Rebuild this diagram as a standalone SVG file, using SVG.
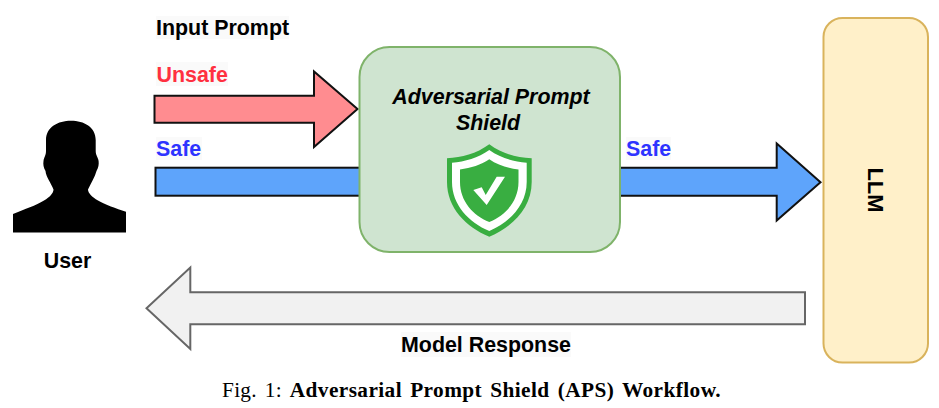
<svg xmlns="http://www.w3.org/2000/svg" width="939" height="408" viewBox="0 0 939 408">
<style>
text{font-family:"Liberation Sans",Arial,sans-serif;font-weight:bold;font-size:21.4px;fill:#000}
.blue{fill:#2d33ff}
.red{fill:#ff3040}
.halo{fill:#fafafa}
.arrow{stroke:#111;stroke-width:2;stroke-linejoin:miter}
text.cap{font-family:"Liberation Serif","Times New Roman",serif;font-size:21.3px;font-weight:normal;letter-spacing:0.3px;word-spacing:2.2px}
.cap tspan{font-weight:bold;letter-spacing:0.42px;word-spacing:2.4px}
.it{font-style:italic}
</style>
<rect width="939" height="408" fill="#fff"/>
<g id="connectors">
<polygon class="arrow" fill="#ff8c90" points="154.5,95.7 314,95.7 314,71.5 357.5,109 314,147 314,122.7 154.5,122.7"/>
<rect class="arrow" fill="#5ea4fb" x="155.5" y="167.7" width="206" height="28"/>
<polygon class="arrow" fill="#5ea4fb" points="618,167.7 776.7,167.7 776.7,143.5 820.5,182.3 776.7,220.5 776.7,195.7 618,195.7"/>
<polygon fill="#f1f1f1" stroke="#666" stroke-width="2" points="805,292.3 190.3,292.3 190.3,267.5 146.5,308.3 190.3,349 190.3,324.3 805,324.3"/>
</g>
<g id="user">
<path fill="#000" d="M13,214 C25,209 36,205.5 44,200.5 C50,197 53.5,193 53.5,189.5 C51,183 46,177 45.5,171 C43.5,168 43,164 43.5,161 C44,157 46,155.5 46,151 L46,140 C46,127 58,120.7 71,120.7 C84,120.7 95.7,127 95.7,140 L95.7,151 C95.7,155.5 98,157 98.6,161 C99,164 98.5,168 96.5,171 C95,177 91,183 88,189.5 C88,193 92,197 98,200.5 C105,204.5 116,208.5 126,211.7 L126,232.5 L13,232.5 Z"/>
<text x="67.5" y="268" text-anchor="middle">User</text>
</g>
<g id="input-labels">
<rect class="halo" x="156" y="16" width="133" height="23"/>
<rect class="halo" x="156" y="62" width="72" height="24"/>
<rect class="halo" x="156" y="137" width="46" height="23"/>
<text x="156" y="35">Input Prompt</text>
<text class="red" x="156.5" y="82">Unsafe</text>
<text class="blue" x="156" y="156">Safe</text>
</g>
<g id="shield-node">
<rect x="359.5" y="47" width="260.5" height="205" rx="30" ry="30" fill="#cfe4d0" stroke="#7fb36a" stroke-width="2"/>
<text class="it" x="491" y="104" text-anchor="middle">Adversarial Prompt</text>
<text class="it" x="488" y="129.5" text-anchor="middle">Shield</text>
<path fill="#39ae41" d="M489.3,144.3 C476,154 462,157.5 447,158.3 L447,182 C447,208 466,227 489.3,236.7 C512.5,227 531.7,208 531.7,182 L531.7,158.3 C516.5,157.5 502.5,154 489.3,144.3 Z"/>
<path fill="#fff" d="M489.3,150 C478,158 465,161.5 452,162.8 L452,182 C452,205 469,222.5 489.3,231 C509.5,222.5 526.7,205 526.7,182 L526.7,162.8 C513.5,161.5 500.5,158 489.3,150 Z"/>
<path fill="#39ae41" d="M489.3,159.3 C481,165 471,168 460,169.5 L460,182 C460,201 473,215.5 489.3,222 C505.5,215.5 518.5,201 518.5,182 L518.5,169.5 C507.5,168 497.5,165 489.3,159.3 Z"/>
<polygon fill="#fff" points="473.3,190 481.7,187.3 485.7,195 496.7,176.7 505,176.7 486.7,205"/>
</g>
<g id="safe-output-label">
<rect class="halo" x="626" y="137" width="45" height="23"/>
<text class="blue" x="626" y="156">Safe</text>
</g>
<g id="llm">
<rect x="823.5" y="18" width="104.5" height="344.5" rx="19" ry="19" fill="#fff0c9" stroke="#d9b35c" stroke-width="2"/>
<text transform="translate(867.5,190) rotate(90)" text-anchor="middle" style="font-size:22px">LLM</text>
</g>
<g id="response-label">
<rect class="halo" x="401" y="332" width="170" height="25"/>
<text x="486" y="351.5" text-anchor="middle">Model Response</text>
</g>
<text class="cap" x="222" y="397">Fig. 1: <tspan>Adversarial Prompt Shield (APS) Workflow.</tspan></text>
</svg>
